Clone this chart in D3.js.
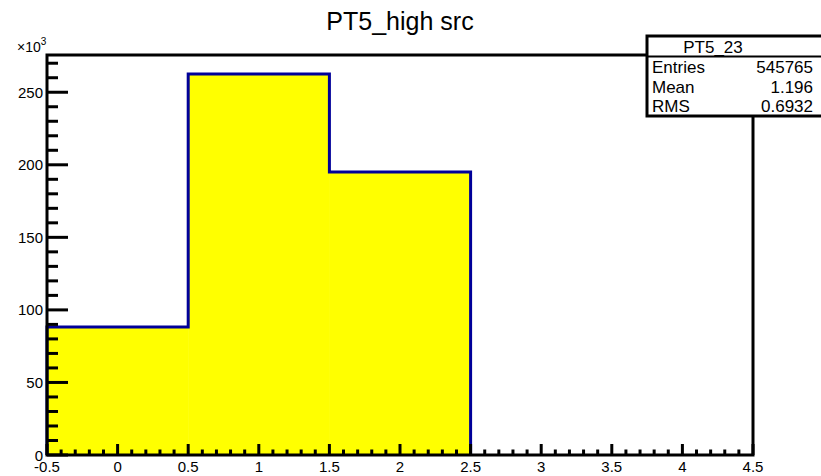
<!DOCTYPE html>
<html>
<head>
<meta charset="utf-8">
<script src="https://cdn.jsdelivr.net/npm/d3@7"></script>
<style>
  body { margin: 0; background: #fff; }
  svg { display: block; font-family: "Liberation Sans", Arial, sans-serif; }
</style>
</head>
<body>
<div id="chart"></div>
<script>
// Histogram bins (bin edges and counts)
const binEdges = [-0.5, 0.5, 1.5, 2.5];
const binCounts = [88128, 262540, 195097];
const xTicks = [-0.5, 0, 0.5, 1, 1.5, 2, 2.5, 3, 3.5, 4, 4.5];
const yTicks = [0, 50000, 100000, 150000, 200000, 250000];
const statLabels = ["Entries", "Mean", "RMS"];
const statValues = ["545765", "1.196", "0.6932"];

const width = 821, height = 476;
const margin = {top: 55, right: 68, bottom: 21, left: 47};

const svg = d3.select("#chart").append("svg")
  .attr("width", width)
  .attr("height", height);

const x = d3.scaleLinear()
  .domain([-0.5, 4.5])
  .range([margin.left, width - margin.right]);

const y = d3.scaleLinear()
  .domain([0, d3.max(binCounts) * 1.05])
  .range([height - margin.bottom, margin.top]);

// Filled histogram
const bins = binCounts.map((c, i) => ({x0: binEdges[i], x1: binEdges[i + 1], n: c}));

svg.append("g")
  .selectAll("rect")
  .data(bins)
  .enter().append("rect")
  .attr("x", d => x(d.x0))
  .attr("width", d => x(d.x1) - x(d.x0) + 0.5)
  .attr("y", d => y(d.n))
  .attr("height", d => y(0) - y(d.n))
  .attr("fill", "#ffff00");

// Outline of the histogram as a step path
const pts = [[binEdges[0], 0]];
bins.forEach(d => { pts.push([d.x0, d.n]); pts.push([d.x1, d.n]); });
pts.push([binEdges[binEdges.length - 1], 0]);

svg.append("path")
  .attr("d", d3.line().x(d => x(d[0])).y(d => y(d[1]))(pts))
  .attr("fill", "none")
  .attr("stroke", "#000099")
  .attr("stroke-width", 3)
  .attr("stroke-linejoin", "miter");

// Frame
svg.append("rect")
  .attr("x", x(-0.5))
  .attr("y", y.range()[1])
  .attr("width", x(4.5) - x(-0.5))
  .attr("height", y.range()[0] - y.range()[1])
  .attr("fill", "none")
  .attr("stroke", "#000")
  .attr("stroke-width", 3);

// X axis: major every 0.5, minor every 0.1
const xMinor = d3.range(-5, 46).map(i => i / 10);
svg.append("g")
  .selectAll("line")
  .data(xMinor)
  .enter().append("line")
  .attr("x1", d => x(d))
  .attr("x2", d => x(d))
  .attr("y1", y(0))
  .attr("y2", d => y(0) - (Math.abs(Math.round(d * 10) % 5) === 0 ? 11 : 5.5))
  .attr("stroke", "#000")
  .attr("stroke-width", 3);

svg.append("g")
  .selectAll("text")
  .data(xTicks)
  .enter().append("text")
  .attr("x", d => x(d))
  .attr("y", y(0) + 16.5)
  .attr("text-anchor", "middle")
  .style("font-size", "15px")
  .text(d => d);

// Y axis: major every 50k, minor every 10k
const yMinor = d3.range(0, 28).map(i => i * 10000);
svg.append("g")
  .selectAll("line")
  .data(yMinor)
  .enter().append("line")
  .attr("x1", x(-0.5))
  .attr("x2", d => x(-0.5) + (d % 50000 === 0 ? 21 : 11))
  .attr("y1", d => y(d))
  .attr("y2", d => y(d))
  .attr("stroke", "#000")
  .attr("stroke-width", 3);

svg.append("g")
  .selectAll("text")
  .data(yTicks)
  .enter().append("text")
  .attr("x", x(-0.5) - 4)
  .attr("y", d => y(d) + 5.5)
  .attr("text-anchor", "end")
  .style("font-size", "15px")
  .text(d => d / 1000);

// x10^3 exponent label
const expo = svg.append("text")
  .attr("x", 17)
  .attr("y", 52)
  .style("font-size", "14px");
expo.append("tspan").text("\u00d710");
expo.append("tspan").attr("dy", -7).style("font-size", "10px").text("3");

// Title
svg.append("text")
  .attr("x", 400)
  .attr("y", 30)
  .attr("text-anchor", "middle")
  .style("font-size", "25px")
  .text("PT5_high src");

// Stats box
const box = svg.append("g");
box.append("rect")
  .attr("x", 647)
  .attr("y", 36)
  .attr("width", 176)
  .attr("height", 80)
  .attr("fill", "#fff")
  .attr("stroke", "#000")
  .attr("stroke-width", 3);
box.append("line")
  .attr("x1", 647).attr("x2", 821)
  .attr("y1", 56.5).attr("y2", 56.5)
  .attr("stroke", "#000")
  .attr("stroke-width", 2);
box.append("text")
  .attr("x", 713)
  .attr("y", 53)
  .attr("text-anchor", "middle")
  .style("font-size", "17px")
  .text("PT5_23");
box.selectAll(".lab")
  .data(statLabels)
  .enter().append("text")
  .attr("class", "lab")
  .attr("x", 652)
  .attr("y", (d, i) => 73 + i * 19.5)
  .style("font-size", "17px")
  .text(d => d);
box.selectAll(".val")
  .data(statValues)
  .enter().append("text")
  .attr("class", "val")
  .attr("x", 813)
  .attr("y", (d, i) => 73 + i * 19.5)
  .attr("text-anchor", "end")
  .style("font-size", "17px")
  .text(d => d);
</script>
</body>
</html>
